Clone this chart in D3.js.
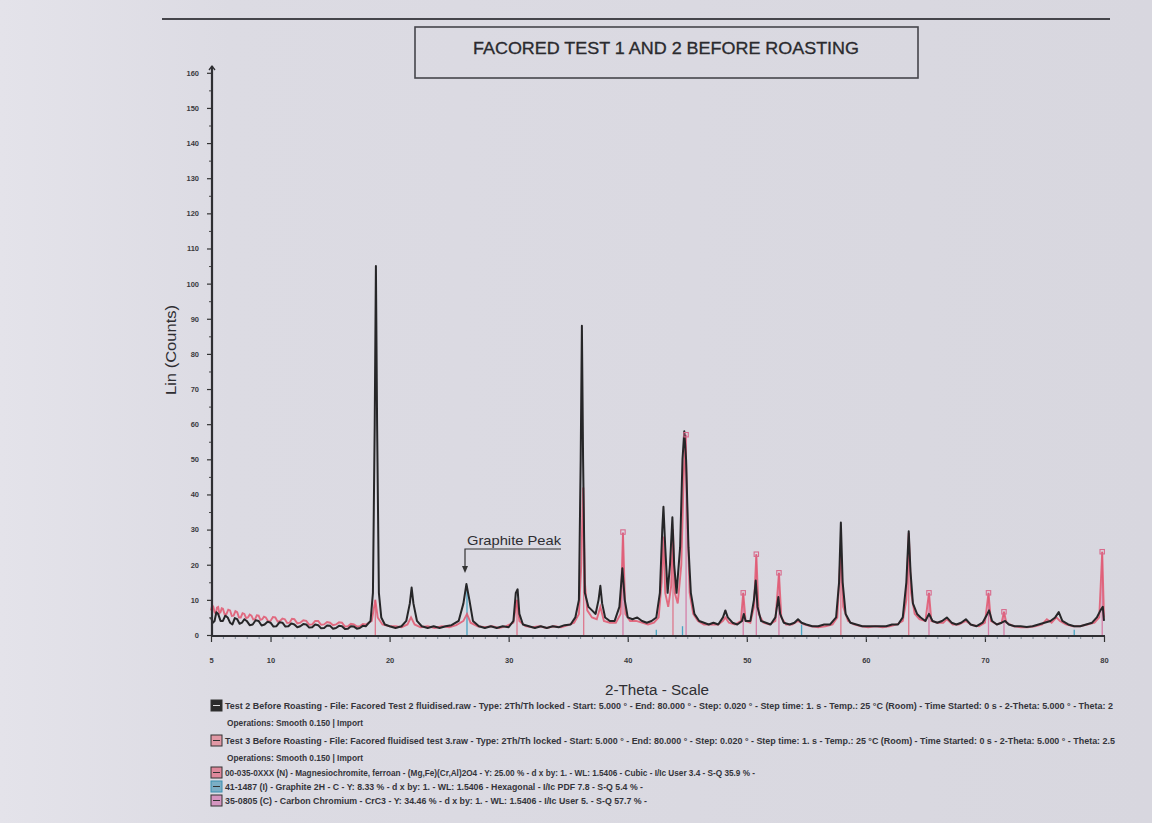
<!DOCTYPE html>
<html><head><meta charset="utf-8">
<script src="https://cdn.jsdelivr.net/npm/d3@7"></script>
<style>html,body{margin:0;padding:0;background:#dcdbe3;} svg{display:block;}</style>
</head><body><svg id="c" width="1152" height="823"></svg>
<script>
const titleText = "FACORED TEST 1 AND 2 BEFORE ROASTING";
const xLabel = "2-Theta - Scale";
const yLabel = "Lin (Counts)";
const xTicks = [5,10,20,30,40,50,60,70,80];
const yTicks = [0,10,20,30,40,50,60,70,80,90,100,110,120,130,140,150,160];

// Test 2 (black) [2-theta, counts]
const test2 = [[5,5],[5.15,3.5],[5.3,4],[5.45,6.5],[5.6,6],[5.8,4],[6,4],[6.2,5.5],[6.4,5],[6.6,3.5],[6.8,3],[7,4.8],[7.2,4.5],[7.4,3.2],[7.6,3.5],[7.8,4.5],[8,4],[8.25,2.8],[8.5,3],[8.75,4.2],[9,4],[9.25,2.7],[9.5,3],[9.75,3.8],[10,3.5],[10.25,2.4],[10.5,2.5],[10.75,3.6],[11,3.5],[11.25,2.4],[11.5,2.5],[11.75,3.3],[12,3],[12.25,2.2],[12.5,2.5],[12.75,3.1],[13,3],[13.25,2.1],[13.5,2.2],[13.75,3],[14,2.8],[14.25,1.9],[14.5,2],[14.75,2.7],[15,2.6],[15.25,1.8],[15.5,2],[15.75,2.6],[16,2.5],[16.25,1.7],[16.5,1.8],[16.75,2.5],[17,2.4],[17.25,1.8],[17.5,2],[17.75,2.6],[18,2.5],[18.4,4],[18.6,12],[18.75,60],[18.85,105],[18.95,60],[19.1,12],[19.3,5],[19.6,3],[20,2.5],[20.5,2],[21,2.5],[21.4,4],[21.7,9],[21.85,13.5],[22,9],[22.3,4],[22.7,2.5],[23.2,2],[23.7,2.5],[24.2,2],[24.7,2.5],[25.2,2.8],[25.8,4],[26.2,9],[26.45,14.5],[26.7,10],[27,4],[27.5,2.5],[28,2],[28.5,2.5],[29,2],[29.5,2.5],[30,2.2],[30.4,4],[30.6,12],[30.75,13],[30.9,6],[31.2,3],[31.7,2.5],[32.2,2],[32.7,2.5],[33.2,2],[33.7,2.5],[34.2,2.2],[34.7,2.8],[35.2,3],[35.6,5],[35.9,10],[36.05,50],[36.15,88],[36.25,50],[36.4,12],[36.7,8],[37,7],[37.3,6],[37.55,10],[37.7,14],[37.85,9],[38.1,5],[38.5,4],[38.9,4],[39.3,8],[39.55,19],[39.75,10],[40,5],[40.4,4.5],[40.8,5],[41.2,4],[41.6,3.5],[42,4],[42.4,5],[42.7,12],[42.9,30],[43,36.5],[43.15,25],[43.35,12],[43.55,20],[43.75,33.5],[43.9,20],[44.1,12],[44.4,25],[44.6,50],[44.75,58],[44.9,50],[45.1,25],[45.3,12],[45.6,6],[46,4],[46.4,3.5],[46.8,3],[47.2,3.5],[47.6,3],[48,5],[48.2,7],[48.4,5],[48.8,3.5],[49.2,3],[49.6,4],[49.75,6],[49.9,4],[50.3,4],[50.6,10],[50.75,15.5],[50.9,8],[51.2,4],[51.6,3.5],[52,3],[52.4,5],[52.65,10.8],[52.8,6],[53.1,3.5],[53.6,3],[54,3.5],[54.3,4.5],[54.6,3.5],[55,3],[55.5,2.5],[56,2.5],[56.5,3],[57,3],[57.5,5],[57.75,15],[57.9,32],[58.05,15],[58.3,6],[58.7,3.5],[59.2,3],[59.7,2.5],[60.2,2.5],[60.7,2.5],[61.2,2.5],[61.7,2.5],[62.2,3],[62.7,3],[63.1,5],[63.4,15],[63.6,29.5],[63.75,18],[63.95,9],[64.3,6],[64.6,5],[65,4],[65.3,6],[65.6,4],[66,3.5],[66.4,4],[66.8,5],[67.2,3.5],[67.6,3],[68,3.5],[68.4,4.5],[68.8,3],[69.3,2.5],[69.8,3.5],[70.2,6],[70.35,7],[70.6,4],[71,3],[71.4,3.5],[71.7,4],[72,3],[72.5,2.5],[73,2.5],[73.5,2.3],[74,2.5],[74.5,3],[75,3.5],[75.5,4],[75.9,5],[76.2,6.5],[76.5,4],[77,3],[77.5,2.5],[78,2.5],[78.5,3],[79,3.5],[79.4,5],[79.7,7],[79.9,8],[80,4]];

// Test 3 (red) [2-theta, counts]
const test3 = [[5,7],[5.1,8.5],[5.2,8],[5.3,6.5],[5.4,6],[5.5,7.8],[5.6,8],[5.7,6.2],[5.8,6.5],[5.9,7.6],[6,7.5],[6.15,5.8],[6.3,6],[6.45,7.2],[6.6,7],[6.75,5.4],[6.9,5.5],[7.05,6.8],[7.2,6.5],[7.35,5],[7.5,5],[7.65,6.2],[7.8,6],[7.95,4.8],[8.1,5],[8.25,5.8],[8.4,5.5],[8.55,4.4],[8.7,4.5],[8.85,5.6],[9,5.5],[9.15,4.3],[9.3,4.5],[9.45,5.2],[9.6,5],[9.8,3.9],[10,4],[10.2,5.1],[10.4,5],[10.6,3.8],[10.8,4],[11,4.7],[11.2,4.5],[11.4,3.4],[11.6,3.5],[11.8,4.6],[12,4.5],[12.25,3.3],[12.5,3.5],[12.75,4.2],[13,4],[13.25,2.9],[13.5,3],[13.75,4],[14,4],[14.25,2.9],[14.5,3],[14.75,3.7],[15,3.5],[15.25,2.8],[15.5,3],[15.75,3.6],[16,3.5],[16.25,2.4],[16.5,2.5],[16.75,3.2],[17,3],[17.25,2.4],[17.5,2.5],[17.75,3.1],[18,3],[18.5,4],[18.8,10],[19,5],[19.4,3],[20,2.5],[20.5,2.5],[21,2.2],[21.5,3],[21.8,5],[22.1,3],[22.6,2.2],[23.2,2.5],[23.8,2],[24.4,2.5],[25,2.2],[25.6,2.8],[26.2,4],[26.5,6],[26.8,3.5],[27.4,2.5],[28,2.2],[28.6,2.5],[29.2,2],[29.8,2.5],[30.4,3.5],[30.7,10],[30.9,4],[31.4,2.5],[32,2.2],[32.6,2.5],[33.2,2],[33.8,2.5],[34.4,2.2],[35,2.8],[35.5,3.5],[35.9,6],[36.1,20],[36.25,42],[36.4,15],[36.6,7],[37,5],[37.4,4.5],[37.7,8],[38,4],[38.5,3.5],[39,3.5],[39.4,6],[39.6,29],[39.8,6],[40.2,4],[40.7,4],[41.2,3.5],[41.7,3],[42.2,3.5],[42.6,5],[42.85,15],[43,28],[43.15,12],[43.4,8],[43.65,14],[43.8,30],[43.95,12],[44.2,9],[44.5,20],[44.7,45],[44.85,57],[45,35],[45.2,12],[45.5,6],[45.9,4],[46.4,3],[47,3],[47.6,3],[48,4],[48.2,5],[48.5,3.5],[49,3],[49.5,4],[49.7,12],[49.9,4],[50.3,3.5],[50.6,8],[50.8,23],[51,6],[51.4,3.5],[51.9,3],[52.4,4],[52.7,17.7],[52.9,5],[53.3,3],[53.8,3],[54.3,4],[54.8,3],[55.4,2.5],[56,2.2],[56.6,2.5],[57.2,3],[57.6,5],[57.9,24.7],[58.1,8],[58.5,4],[59,3],[59.6,2.5],[60.2,2.2],[60.8,2.5],[61.4,2.2],[62,2.5],[62.6,3],[63.1,4],[63.4,10],[63.6,29],[63.8,12],[64.1,6],[64.5,4.5],[65,4],[65.3,12],[65.5,4],[66,3.5],[66.5,3.5],[66.8,4.5],[67.3,3],[67.8,3],[68.4,4],[68.9,2.8],[69.5,2.5],[70,3.5],[70.3,12],[70.5,4],[71,3],[71.4,3.5],[71.6,6.6],[71.8,3.5],[72.4,2.5],[73,2.2],[73.6,2.2],[74.2,2.5],[74.8,3],[75.2,4.5],[75.6,3.5],[76,5],[76.3,4],[76.8,3],[77.4,2.5],[78,2.5],[78.6,3],[79.2,3.5],[79.6,5],[79.85,23.7],[80,5]];

// Reference stick patterns [2-theta, counts]
const magnesiochromiteSticks = [[18.8,10],[30.7,10],[36.3,42],[43.8,30],[57.9,24.7],[63.6,29]];
const graphiteSticks = [[26.5,14],[42.4,1.5],[44.6,2.5],[54.6,3],[77.5,1.5]];
const carbonChromiumSticks = [[39.6,29.3],[44.9,57],[49.7,12],[50.8,23],[52.7,17.7],[65.3,12],[70.3,12],[71.6,6.6],[79.85,23.7]];

const legendLines = [
 "Test 2 Before Roasting - File: Facored Test 2 fluidised.raw - Type: 2Th/Th locked - Start: 5.000 ° - End: 80.000 ° - Step: 0.020 ° - Step time: 1. s - Temp.: 25 °C (Room) - Time Started: 0 s - 2-Theta: 5.000 ° - Theta: 2",
 "Operations: Smooth 0.150 | Import",
 "Test 3 Before Roasting - File: Facored fluidised test 3.raw - Type: 2Th/Th locked - Start: 5.000 ° - End: 80.000 ° - Step: 0.020 ° - Step time: 1. s - Temp.: 25 °C (Room) - Time Started: 0 s - 2-Theta: 5.000 ° - Theta: 2.5",
 "Operations: Smooth 0.150 | Import",
 "00-035-0XXX (N) - Magnesiochromite, ferroan - (Mg,Fe)(Cr,Al)2O4 - Y: 25.00 % - d x by: 1. - WL: 1.5406 - Cubic - I/Ic User 3.4 - S-Q 35.9 % -",
 "41-1487 (I) - Graphite 2H - C - Y: 8.33 % - d x by: 1. - WL: 1.5406 - Hexagonal - I/Ic PDF 7.8 - S-Q 5.4 % -",
 "35-0805 (C) - Carbon Chromium - CrC3 - Y: 34.46 % - d x by: 1. - WL: 1.5406 - I/Ic User 5. - S-Q 57.7 % -"
];
const legendIcons = ["#2b2b2b", null, "#e56a7c", null, "#e0506a", "#3a8fb0", "#d065a8"];

const svg = d3.select("#c");
const defs = svg.append("defs");
const grad = defs.append("linearGradient").attr("id","bg").attr("x1","0").attr("x2","1");
grad.append("stop").attr("offset","0").attr("stop-color","#e4e3ea");
grad.append("stop").attr("offset","0.2").attr("stop-color","#dcdbe3");
grad.append("stop").attr("offset","1").attr("stop-color","#d8d7df");
svg.append("rect").attr("width",1152).attr("height",823).attr("fill","url(#bg)");

const x = d3.scaleLinear().domain([5,80]).range([211,1104]);
const y = d3.scaleLinear().domain([0,160]).range([635,72.8]);

// top rule
svg.append("line").attr("x1",162).attr("x2",1110).attr("y1",19).attr("y2",19).attr("stroke","#45454b").attr("stroke-width",1.8);
// title box
svg.append("rect").attr("x",415).attr("y",27).attr("width",503).attr("height",51).attr("fill","none").attr("stroke","#45454b").attr("stroke-width",1.6);
svg.append("text").attr("x",666).attr("y",54).attr("text-anchor","middle")
  .attr("font-family","Liberation Sans, Arial, sans-serif").attr("font-size",16).attr("fill","#2a2a2e")
  .attr("stroke","#2a2a2e").attr("stroke-width",0.3)
  .attr("textLength",386).attr("lengthAdjust","spacingAndGlyphs").text(titleText);

// reference sticks
function sticks(data, color, op){
  svg.append("g").selectAll("line").data(data).join("line")
    .attr("x1",d=>x(d[0])).attr("x2",d=>x(d[0])).attr("y1",y(0)).attr("y2",d=>y(d[1]))
    .attr("stroke",color).attr("stroke-width",1.3).attr("opacity",op);
}
sticks(magnesiochromiteSticks,"#e0506a",0.7);
sticks(graphiteSticks,"#3aa0c0",0.9);
sticks(carbonChromiumSticks,"#d56a9a",0.8);

const line = d3.line().x(d=>x(d[0])).y(d=>y(d[1]));
svg.append("path").datum(test3).attr("d",line).attr("fill","none").attr("stroke","#e2566e").attr("stroke-width",1.9).attr("opacity",0.85);
svg.append("path").datum(test2).attr("d",line).attr("fill","none").attr("stroke","#262628").attr("stroke-width",2).attr("stroke-linejoin","round");

svg.append("g").selectAll("rect").data(carbonChromiumSticks).join("rect")
  .attr("x",d=>x(d[0])-2.2).attr("y",d=>y(d[1])-2.2).attr("width",4.4).attr("height",4.4)
  .attr("fill","none").attr("stroke","#d86a8c").attr("stroke-width",1.1);

// axes
const yAxis = d3.axisLeft(y).tickValues(yTicks).tickSize(5).tickFormat(d3.format("d"));
const gy = svg.append("g").attr("transform","translate(212,0)").call(yAxis);
gy.select(".domain").remove();
gy.selectAll(".tick line").attr("stroke","#333").attr("stroke-width",1.2);
gy.selectAll(".tick text").attr("font-family","Liberation Sans, Arial, sans-serif").attr("font-size",7.5).attr("font-weight","bold").attr("fill","#3a3a3e").attr("x",-13);
const yMinor = d3.axisLeft(y).tickValues(d3.range(5,160,10)).tickSize(3).tickFormat("");
const gym = svg.append("g").attr("transform","translate(212,0)").call(yMinor);
gym.select(".domain").remove();
gym.selectAll(".tick line").attr("stroke","#444");
svg.append("line").attr("x1",212).attr("x2",212).attr("y1",66).attr("y2",y(0)+1).attr("stroke","#2f2f33").attr("stroke-width",2.2);
svg.append("path").attr("d","M209,70 L212,66 L215,70").attr("fill","none").attr("stroke","#2f2f33").attr("stroke-width",1.3);

const xAxis = d3.axisBottom(x).tickValues(xTicks).tickSize(6).tickFormat(d3.format("d"));
const gx = svg.append("g").attr("transform","translate(0,636)").call(xAxis);
gx.select(".domain").remove();
gx.selectAll(".tick line").attr("stroke","#333").attr("stroke-width",1.2);
gx.selectAll(".tick text").attr("font-family","Liberation Sans, Arial, sans-serif").attr("font-size",7.5).attr("font-weight","bold").attr("fill","#3a3a3e").attr("y",22);
const xMinor = d3.axisBottom(x).tickValues(d3.range(6,80,1)).tickSize(3).tickFormat("");
const gxm = svg.append("g").attr("transform","translate(0,636)").call(xMinor);
gxm.select(".domain").remove();
gxm.selectAll(".tick line").attr("stroke","#6a7a8a").attr("opacity",0.8);
svg.append("line").attr("x1",211).attr("x2",1105).attr("y1",636).attr("y2",636).attr("stroke","#2f2f33").attr("stroke-width",2.2);

// axis labels
svg.append("text").attr("x",657).attr("y",695).attr("text-anchor","middle")
  .attr("font-family","Liberation Sans, Arial, sans-serif").attr("font-size",14).attr("fill","#2e2e32")
  .attr("textLength",104).attr("lengthAdjust","spacingAndGlyphs").text(xLabel);
svg.append("text").attr("transform","translate(176,350) rotate(-90)").attr("text-anchor","middle")
  .attr("font-family","Liberation Sans, Arial, sans-serif").attr("font-size",14).attr("fill","#2e2e32")
  .attr("textLength",90).attr("lengthAdjust","spacingAndGlyphs").text(yLabel);

// Graphite peak annotation
svg.append("text").attr("x",467).attr("y",545)
  .attr("font-family","Liberation Sans, Arial, sans-serif").attr("font-size",13).attr("fill","#2e2e32")
  .attr("textLength",94).attr("lengthAdjust","spacingAndGlyphs").text("Graphite Peak");
svg.append("path").attr("d","M561,549 L465,549 L465,570").attr("fill","none").attr("stroke","#333").attr("stroke-width",1.2);
svg.append("path").attr("d","M462,566 L465,573 L468,566 Z").attr("fill","#333");

// legend
const lgX = [225,227,225,227,225,225,225];
const lgW = [888,136,890,136,530,418,422];
const lgY = [709,726,744,761,776,790,804];
legendLines.forEach((t,i)=>{
  svg.append("text").attr("x",lgX[i]).attr("y",lgY[i])
    .attr("font-family","Liberation Sans Narrow, Liberation Sans, Arial, sans-serif").attr("font-size",8.5).attr("font-weight","bold").attr("fill","#34343a")
    .attr("textLength",lgW[i]).attr("lengthAdjust","spacingAndGlyphs").text(t);
  if(legendIcons[i]){
    svg.append("rect").attr("x",211).attr("y",lgY[i]-9).attr("width",11).attr("height",11)
      .attr("fill",legendIcons[i]).attr("fill-opacity",i===0?1:0.6).attr("stroke",i===5?"#3a8fb0":"#333").attr("stroke-width",1);
    svg.append("line").attr("x1",213).attr("x2",220).attr("y1",lgY[i]-3.5).attr("y2",lgY[i]-3.5).attr("stroke",i===0?"#ddd":"#333").attr("stroke-width",1);
  }
});
</script></body></html>
